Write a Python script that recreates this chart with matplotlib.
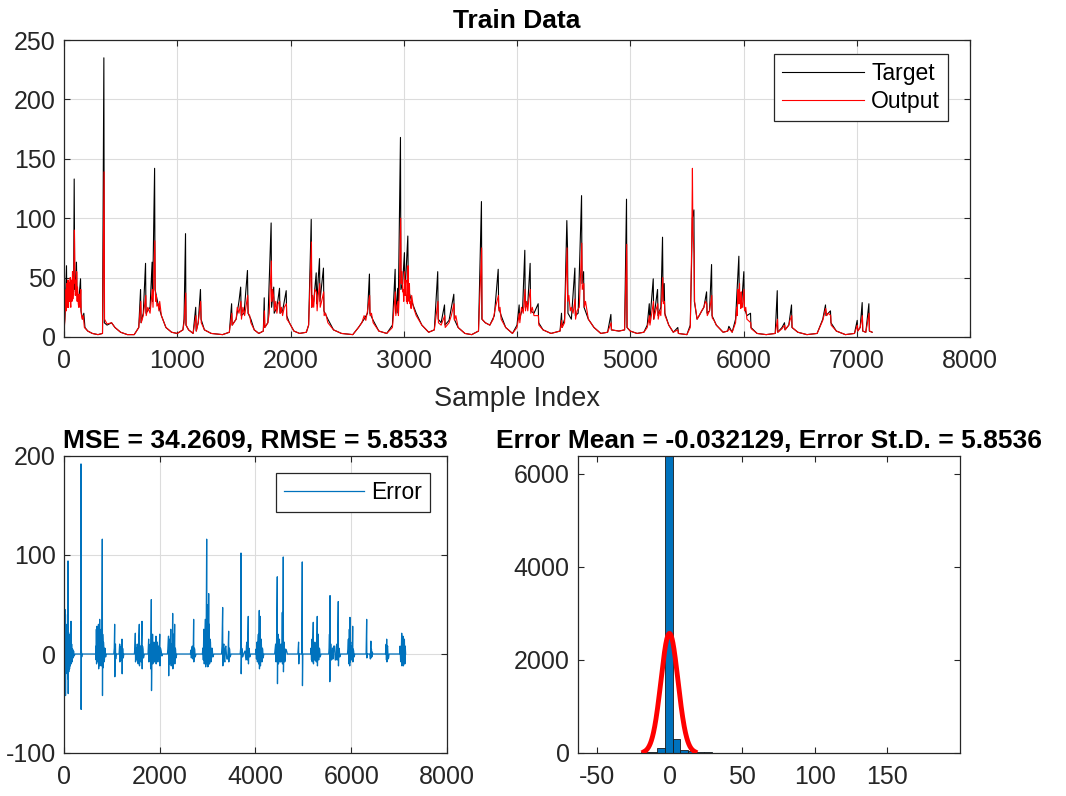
import numpy as np
import matplotlib
matplotlib.use("Agg")
import matplotlib.pyplot as plt

# ---------------- data ----------------
target_points = [
    (0, 5), (10, 20), (22, 60), (26, 25), (40, 35), (55, 30), (70, 45), (85, 38), (90, 133), (95, 40),
    (105, 50), (110, 63), (115, 35), (130, 30), (146, 49), (150, 22), (165, 15), (175, 20), (185, 8),
    (210, 5), (250, 3), (300, 2), (340, 3), (352, 235), (356, 12), (380, 10), (420, 12), (450, 8),
    (500, 4), (560, 2), (620, 2), (660, 8), (676, 40), (680, 12), (700, 20), (720, 62), (724, 20),
    (760, 25), (778, 63), (782, 30), (800, 142), (804, 40), (830, 28), (860, 18), (900, 8), (950, 4),
    (1000, 3), (1050, 6), (1060, 15), (1073, 87), (1077, 10), (1100, 6), (1140, 3), (1163, 25),
    (1167, 5), (1185, 12), (1205, 40), (1210, 15), (1240, 6), (1300, 3), (1400, 2), (1460, 4),
    (1480, 28), (1484, 10), (1520, 15), (1545, 30), (1560, 42), (1565, 18), (1590, 20), (1620, 56),
    (1625, 20), (1650, 15), (1680, 6), (1720, 3), (1760, 5), (1768, 33), (1772, 8), (1800, 12),
    (1829, 96), (1833, 25), (1852, 42), (1856, 20), (1880, 25), (1903, 41), (1907, 20), (1930, 22),
    (1962, 39), (1966, 18), (1990, 12), (2030, 5), (2080, 3), (2140, 4), (2160, 10), (2183, 99),
    (2187, 25), (2205, 30), (2227, 54), (2231, 28), (2256, 66), (2260, 30), (2291, 58), (2295, 22),
    (2330, 15), (2380, 6), (2450, 3), (2550, 2), (2600, 8), (2650, 15), (2680, 20), (2697, 53),
    (2701, 20), (2730, 14), (2780, 5), (2850, 3), (2900, 10), (2924, 57), (2928, 20), (2947, 41),
    (2951, 20), (2971, 168), (2975, 40), (2990, 45), (3006, 71), (3010, 35), (3036, 85), (3040, 40),
    (3070, 30), (3110, 20), (3160, 10), (3220, 4), (3270, 6), (3300, 55), (3304, 15), (3330, 12),
    (3360, 27), (3364, 10), (3400, 14), (3442, 36), (3446, 15), (3480, 8), (3540, 3), (3600, 2),
    (3660, 5), (3686, 114), (3690, 15), (3720, 12), (3760, 10), (3800, 18), (3834, 57), (3838, 25),
    (3860, 18), (3900, 8), (3960, 3), (4000, 10), (4019, 27), (4023, 15), (4050, 25), (4069, 73),
    (4073, 25), (4095, 28), (4116, 62), (4120, 22), (4150, 20), (4187, 28), (4191, 12), (4230, 6),
    (4300, 3), (4380, 5), (4393, 20), (4397, 8), (4420, 15), (4440, 98), (4446, 75), (4450, 20),
    (4480, 15), (4511, 58), (4515, 18), (4540, 20), (4570, 119), (4574, 45), (4588, 55), (4592, 25),
    (4630, 15), (4680, 8), (4740, 3), (4800, 4), (4829, 19), (4833, 6), (4900, 5), (4950, 6),
    (4967, 116), (4971, 8), (5000, 5), (5060, 3), (5120, 4), (5150, 10), (5168, 28), (5172, 12),
    (5203, 49), (5207, 15), (5241, 40), (5245, 18), (5270, 25), (5285, 84), (5290, 30), (5300, 45),
    (5305, 20), (5340, 10), (5380, 4), (5420, 8), (5425, 3), (5500, 2), (5530, 10), (5541, 60),
    (5548, 100), (5562, 107), (5566, 30), (5590, 15), (5620, 20), (5650, 25), (5674, 38), (5678, 20),
    (5700, 22), (5718, 61), (5722, 18), (5760, 10), (5820, 4), (5860, 5), (5871, 9), (5900, 4),
    (5930, 15), (5959, 68), (5963, 30), (5985, 30), (6003, 55), (6007, 25), (6030, 18), (6062, 20),
    (6066, 8), (6120, 3), (6200, 2), (6280, 3), (6298, 39), (6302, 4), (6340, 8), (6362, 12),
    (6366, 6), (6400, 10), (6424, 27), (6428, 8), (6480, 4), (6560, 2), (6650, 3), (6700, 15),
    (6724, 27), (6728, 18), (6768, 22), (6772, 12), (6820, 5), (6900, 2), (6980, 3), (7004, 14),
    (7008, 5), (7030, 8), (7048, 29), (7052, 5), (7080, 4), (7107, 28), (7111, 5), (7136, 4),
]

output_points = [
    (0, 4), (8, 15), (12, 35), (15, 22), (18, 40), (20, 22), (25, 45), (28, 26), (30, 38), (33, 25),
    (35, 48), (38, 28), (40, 25), (43, 44), (45, 30), (48, 46), (50, 30), (53, 40), (55, 50), (58, 28),
    (60, 25), (63, 45), (65, 32), (68, 48), (70, 30), (73, 40), (75, 55), (78, 32), (80, 35), (83, 50),
    (86, 45), (92, 90), (96, 50), (100, 35), (105, 48), (108, 36), (112, 55), (116, 30), (119, 42),
    (122, 38), (126, 28), (130, 25), (134, 36), (138, 35), (142, 25), (148, 40), (152, 20),
    (160, 15), (170, 18), (180, 8), (210, 5), (250, 3), (300, 2), (340, 3), (354, 139), (358, 15),
    (380, 11), (420, 12), (450, 8), (500, 4), (560, 2), (620, 2), (660, 8), (678, 30), (682, 12),
    (700, 18), (722, 35), (726, 18), (740, 25), (760, 20), (780, 40), (786, 25), (802, 81), (806, 40),
    (810, 30), (815, 35), (820, 26), (830, 28), (838, 22), (845, 30), (860, 18), (900, 8), (950, 4),
    (1000, 3), (1050, 6), (1060, 12),
    (1075, 37), (1079, 10), (1100, 6), (1140, 3), (1165, 18), (1169, 5), (1185, 12), (1207, 30),
    (1212, 12), (1240, 6), (1300, 3), (1400, 2), (1460, 4), (1482, 20), (1486, 10), (1500, 12),
    (1520, 15), (1530, 25), (1545, 20), (1562, 30), (1567, 15), (1580, 25), (1595, 18), (1622, 35),
    (1627, 20), (1640, 18), (1650, 12), (1680, 6), (1720, 3), (1760, 5), (1770, 22), (1774, 8),
    (1800, 12), (1812, 20), (1831, 64), (1835, 30), (1842, 40), (1854, 32), (1860, 22), (1870, 30),
    (1880, 20), (1890, 28), (1905, 30), (1910, 20), (1920, 25), (1930, 18), (1945, 25), (1964, 28),
    (1968, 15), (1990, 12), (2030, 5), (2080, 3), (2140, 4), (2160, 10), (2185, 80), (2189, 25),
    (2195, 35), (2205, 25), (2215, 40), (2229, 38), (2235, 22), (2245, 35), (2258, 45), (2262, 25),
    (2275, 30), (2293, 38), (2297, 18), (2310, 20), (2330, 12), (2380, 6), (2450, 3), (2550, 2),
    (2600, 8), (2630, 12), (2650, 18), (2665, 14), (2680, 22), (2699, 35), (2703, 18), (2715, 20),
    (2730, 12), (2780, 5), (2850, 3), (2900, 8), (2926, 38), (2930, 18), (2940, 25), (2949, 30),
    (2953, 18), (2960, 35), (2973, 100), (2977, 45), (2985, 55), (2990, 38), (2995, 40), (3000, 30),
    (3008, 55), (3012, 35), (3016, 45), (3020, 48), (3024, 30), (3028, 35), (3032, 28), (3038, 60),
    (3042, 38), (3046, 30), (3050, 45), (3055, 28), (3060, 30), (3065, 24), (3070, 35), (3085, 25),
    (3110, 18), (3160, 10), (3220, 4), (3270, 6), (3302, 30), (3306, 12), (3330, 10), (3362, 18),
    (3366, 8), (3400, 12), (3420, 18), (3444, 28), (3448, 14), (3460, 18), (3480, 8), (3540, 3),
    (3600, 2), (3660, 5), (3688, 75), (3692, 15), (3720, 12), (3760, 10), (3790, 15), (3810, 25),
    (3836, 35), (3840, 22), (3850, 25), (3860, 15), (3900, 8), (3960, 3), (4000, 8), (4021, 20),
    (4025, 12), (4040, 25), (4055, 20), (4071, 40), (4075, 22), (4085, 30), (4095, 22), (4105, 32),
    (4118, 40), (4122, 20), (4135, 25), (4150, 18), (4189, 18), (4193, 10), (4230, 6), (4300, 3),
    (4380, 5), (4395, 14), (4399, 8), (4420, 12), (4442, 75), (4448, 30), (4458, 35), (4470, 22),
    (4480, 25), (4495, 20), (4513, 32), (4517, 15), (4530, 22), (4550, 25), (4572, 79), (4576, 40),
    (4590, 45), (4594, 25), (4605, 30), (4630, 15), (4680, 8), (4740, 3), (4800, 4), (4831, 12),
    (4835, 6), (4900, 5), (4950, 6), (4969, 78), (4973, 8), (5000, 5), (5060, 3), (5120, 4),
    (5150, 8), (5170, 18), (5174, 10), (5190, 20), (5205, 30), (5209, 15), (5225, 22), (5243, 28),
    (5247, 15), (5260, 22), (5270, 18), (5287, 50), (5292, 28), (5302, 30), (5307, 18), (5320, 15),
    (5340, 10), (5380, 4), (5420, 6), (5425, 3), (5500, 2), (5530, 8), (5543, 80), (5549, 142),
    (5553, 90), (5564, 70), (5568, 30), (5590, 15), (5610, 18), (5630, 22), (5650, 25), (5665, 30),
    (5676, 28), (5680, 18), (5700, 22), (5720, 35), (5724, 16), (5740, 14), (5760, 10), (5820, 4),
    (5860, 5), (5873, 7), (5900, 4), (5930, 12), (5940, 25), (5945, 18), (5950, 40), (5955, 28),
    (5961, 37), (5965, 45), (5968, 28), (5972, 30), (5976, 24), (5980, 38), (5985, 25), (5990, 25),
    (5997, 32), (6005, 40), (6009, 22), (6020, 25), (6030, 15), (6064, 12),
    (6068, 7), (6120, 3), (6200, 2), (6280, 3), (6300, 15), (6304, 4), (6340, 7), (6364, 10),
    (6368, 6), (6400, 10), (6410, 14), (6426, 18), (6430, 8), (6480, 4), (6560, 2), (6650, 3),
    (6700, 14), (6715, 20), (6726, 24), (6735, 18), (6750, 20), (6770, 18), (6774, 10), (6820, 5),
    (6900, 2), (6980, 3), (7006, 10), (7010, 5), (7030, 8), (7050, 18), (7054, 5), (7080, 4),
    (7109, 20), (7113, 5), (7136, 4),
]

error_points = [
    (0, 0), (10, 15), (14, -10), (20, 45), (24, -30), (28, 20), (32, -42), (38, 25), (44, -15),
    (50, 18), (56, -12), (62, 30), (68, -20), (74, 40), (80, -25), (84, 94), (88, -40), (94, 22),
    (100, -18), (110, 20), (116, -15), (124, 15), (132, -12), (146, 33), (150, -10), (160, 10),
    (170, -8), (180, 5), (190, -4), (200, 3), (212, -2), (230, 0), (350, 0), (355, 192), (358, -56),
    (362, 5), (370, -3), (380, 0), (660, 0), (668, 8), (672, -6), (676, 25), (680, -10), (689, 28),
    (694, -8), (700, 8), (705, 12), (710, -6), (720, 30), (724, -15), (732, 10), (738, -8), (745, 35),
    (750, -12), (758, 8), (765, 10), (770, -8), (778, 25), (782, -12), (790, 12), (800, 116),
    (804, -42), (808, 20), (812, 15), (816, -14), (820, -10), (825, 12), (830, 8), (836, -8),
    (845, -6), (852, 6), (860, 5), (870, -3), (880, 0), (1040, 0), (1050, 6), (1058, 30), (1062, -23),
    (1068, 6), (1075, 10), (1080, -5), (1090, 0), (1150, 0), (1163, 10), (1167, -8), (1180, 6),
    (1195, 8), (1200, -6), (1211, 15), (1215, -20), (1222, 6), (1230, 5), (1238, -4), (1250, 0),
    (1470, 0), (1480, 6), (1490, 21), (1494, -8), (1510, 6), (1520, -6), (1530, 10), (1540, -6),
    (1550, -10), (1560, 12), (1573, 30), (1577, -12), (1590, 8), (1600, 8), (1610, -8), (1629, 33),
    (1633, -15), (1640, 8), (1650, 5), (1660, -4), (1680, 0), (1755, 0), (1760, 5), (1768, 15),
    (1772, -8), (1790, 6), (1800, 10), (1810, -15), (1824, 55), (1828, -37), (1838, 10), (1845, -8),
    (1850, 20), (1855, -10), (1865, 10), (1872, -8), (1880, 12), (1890, -8), (1900, 10), (1910, -6),
    (1921, 18), (1925, -10), (1935, 8), (1942, -6), (1950, 12), (1960, -8), (1970, 8), (1980, -5),
    (1990, 6), (2000, 20), (2004, -12), (2015, 6), (2030, 3), (2045, -2), (2060, 0), (2160, 0),
    (2170, 5), (2183, 18), (2187, -22), (2193, 10), (2200, 15), (2210, -10), (2220, 10), (2230, 25),
    (2240, -12), (2250, 10), (2260, -8), (2270, 41), (2274, -15), (2282, 10), (2290, 20), (2300, -8),
    (2311, 30), (2315, -10), (2322, 6), (2330, 5), (2340, -4), (2355, 0), (2640, 0), (2650, 4),
    (2660, -4), (2670, 6), (2680, 8), (2690, -5), (2700, 6), (2708, 35), (2712, -8), (2720, 6),
    (2730, 5), (2740, -3), (2760, 0), (2890, 0), (2900, 6), (2910, -6), (2920, 25), (2930, -10),
    (2940, 12), (2950, 35), (2960, -13), (2970, 20), (2980, 116), (2987, -10), (2995, 40), (3003, -13),
    (3010, 50), (3016, -12), (3022, 61), (3026, -10), (3030, 25), (3035, 30), (3040, -10), (3045, -8),
    (3052, 15), (3060, 12), (3070, -8), (3080, -5), (3090, 6), (3100, 3), (3110, -3), (3130, 0),
    (3290, 0), (3300, 8), (3314, 47), (3318, -12), (3328, 8), (3340, 10), (3350, -6), (3360, -8),
    (3370, 6), (3380, 8), (3400, -5), (3420, -5), (3430, 6), (3439, 23), (3443, -8), (3450, 6),
    (3460, 5), (3470, -3), (3490, 0), (3680, 0), (3690, 6), (3697, 102), (3701, -20), (3710, 6),
    (3720, 5), (3730, -3), (3750, 0), (3780, 3), (3800, -6), (3810, 8), (3820, 12), (3830, -6),
    (3849, 38), (3853, -10), (3860, 6), (3870, 5), (3880, -3), (3900, 0), (4000, 0), (4010, 5),
    (4020, -5), (4030, 12), (4040, -8), (4050, 10), (4060, 20), (4065, -10), (4072, 12), (4079, 44),
    (4083, -15), (4090, 10), (4100, 38), (4104, -12), (4112, 10), (4120, 15), (4135, -8), (4142, 6),
    (4150, 5), (4160, -4), (4175, 0), (4400, 0), (4410, 5), (4420, 10), (4430, -8), (4440, 12),
    (4455, 78), (4459, -30), (4465, 12), (4470, 20), (4480, -10), (4490, 10), (4500, 15),
    (4510, -8), (4520, -8), (4530, 10), (4545, 8), (4552, -8), (4560, 42), (4564, -10), (4572, 12),
    (4580, 98), (4584, -18), (4592, 8), (4600, 12), (4610, -8), (4620, -6), (4630, 5), (4650, 3),
    (4665, 0), (4885, 0), (4900, 12), (4904, -10), (4912, 0), (4965, 0), (4977, 93), (4981, -32),
    (4988, 0), (5150, 0), (5160, 6), (5170, -6), (5180, 15), (5185, -8), (5195, 8), (5207, 32),
    (5211, -10), (5220, 8), (5230, -6), (5240, 12), (5250, -6), (5260, 8), (5270, -8), (5280, 10),
    (5290, 38), (5294, -12), (5302, 8), (5311, 20), (5320, -6), (5330, 6), (5340, 5), (5350, -3),
    (5370, 0), (5530, 0), (5538, 6), (5545, 20), (5552, -28), (5557, 59), (5562, -25), (5568, 10),
    (5575, 10), (5585, -6), (5600, -5), (5610, 6), (5620, -5), (5635, 8), (5650, 8), (5665, -6),
    (5680, -6), (5690, 8), (5700, 10), (5710, -6), (5729, 53), (5733, -12), (5740, 6), (5750, 5),
    (5760, -3), (5780, 0), (5920, 0), (5930, 5), (5940, 15), (5950, -10), (5960, 25), (5968, -12),
    (5973, 37), (5977, -8), (5984, 10), (5990, 12), (6000, -6), (6010, 8), (6020, -6), (6030, 28),
    (6034, -8), (6042, 5), (6050, 3), (6060, -3), (6075, 0), (6310, 0), (6322, 35), (6326, -4),
    (6335, 0), (6390, 0), (6400, -5), (6410, 13), (6414, -4), (6422, 5), (6430, -3), (6440, 2),
    (6450, 0), (6715, 0), (6722, 6), (6730, 10), (6735, -6), (6740, 15), (6745, -8), (6752, 6),
    (6760, 8), (6770, -5), (6780, -4), (6790, 0), (7010, 0), (7020, 8), (7030, -6), (7040, -8),
    (7048, 10), (7054, 21), (7060, -12), (7066, 10), (7072, -10), (7080, 18), (7090, -12),
    (7098, 12), (7104, -10), (7110, 15), (7120, -10), (7128, 8), (7136, 0),
]

hist_centers = [-22.2, -16.8, -11.4, -6.0, -0.6, 4.8, 10.2, 15.6, 21.0, 26.4, 31.8]
hist_counts = [8, 15, 30, 110, 6370, 300, 60, 40, 25, 15, 10]
hist_width = 5.4
err_mean = -0.032129
err_std = 5.8536
mse = 34.2609
rmse = 5.8533

# ---------------- styling ----------------
plt.rcParams['font.family'] = ['Liberation Sans', 'DejaVu Sans']
plt.rcParams['axes.unicode_minus'] = False
AX_COL = '#262626'
GRID_COL = '#dcdcdc'
BLUE = (0, 0.447, 0.741)

fig = plt.figure(figsize=(10.66, 7.96), dpi=100)
fig.patch.set_facecolor('white')

def style(ax):
    for s in ax.spines.values():
        s.set_color(AX_COL)
        s.set_linewidth(0.9)
    ax.tick_params(direction='in', top=True, right=True, length=4, width=0.8,
                   colors=AX_COL, labelsize=18)
    ax.tick_params(axis='y', pad=6)
    ax.tick_params(axis='x', pad=9)
    ax.grid(True, color=GRID_COL, linewidth=0.8)
    ax.set_axisbelow(True)

# Top: train data
ax1 = fig.add_axes([64/1066, 1-337/796, 906/1066, 297/796])
tx, ty = zip(*target_points)
ox, oy = zip(*output_points)
ax1.plot(tx, ty, color='black', linewidth=0.8, label='Target')
ax1.plot(ox, oy, color='red', linewidth=0.8, label='Output')
ax1.set_xlim(0, 8000)
ax1.set_ylim(0, 250)
ax1.set_xticks(range(0, 8001, 1000))
ax1.set_yticks(range(0, 251, 50))
style(ax1)
ax1.set_title('Train Data', fontsize=19, fontweight='bold', pad=9)
ax1.set_xlabel('Sample Index', fontsize=19.5, color=AX_COL, labelpad=9)
leg1 = ax1.legend(loc='upper right', bbox_to_anchor=(884/906, 283/297), borderaxespad=0,
                  fontsize=16.5, handlelength=3.6, fancybox=False, framealpha=1,
                  edgecolor=AX_COL, borderpad=0.35, labelspacing=0.2, handletextpad=0.3)
leg1.get_frame().set_linewidth(0.9)

# Bottom left: error
ax2 = fig.add_axes([64/1066, 1-753/796, 383/1066, 297/796])
ex, ey = zip(*error_points)
ax2.plot(ex, ey, color=BLUE, linewidth=0.9, label='Error')
ax2.set_xlim(0, 8000)
ax2.set_ylim(-100, 200)
ax2.set_xticks(range(0, 8001, 2000))
ax2.set_yticks([-100, 0, 100, 200])
style(ax2)
ax2.set_title(f'MSE = {mse}, RMSE = {rmse}', fontsize=19, fontweight='bold', pad=6)
leg2 = ax2.legend(loc='upper right', bbox_to_anchor=(366/383, 280/297), borderaxespad=0,
                  fontsize=16.5, handlelength=3.5, fancybox=False, framealpha=1,
                  edgecolor=AX_COL, borderpad=0.35, handletextpad=0.3)
leg2.get_frame().set_linewidth(0.9)

# Bottom right: histogram with normal fit
ax3 = fig.add_axes([578/1066, 1-753/796, 382/1066, 297/796])
ax3.bar(hist_centers, hist_counts, width=hist_width, color=BLUE, edgecolor='#1a1a1a',
        linewidth=0.6, zorder=2)
n_total = sum(hist_counts)
xs = np.linspace(err_mean - 3 * err_std, err_mean + 3 * err_std, 200)
pdf = np.exp(-0.5 * ((xs - err_mean) / err_std) ** 2) / (err_std * np.sqrt(2 * np.pi))
ax3.plot(xs, n_total * hist_width * pdf, color='red', linewidth=3.5, zorder=3)
ax3.set_xlim(-63, 200)
ax3.set_ylim(0, 6380)
ax3.set_xticks([-50, 0, 50, 100, 150])
ax3.set_yticks([0, 2000, 4000, 6000])
style(ax3)
ax3.grid(False)
ax3.set_title(f'Error Mean = {err_mean}, Error St.D. = {err_std}', fontsize=19,
              fontweight='bold', pad=6)

fig.savefig('out.png', dpi=100, facecolor='white')
